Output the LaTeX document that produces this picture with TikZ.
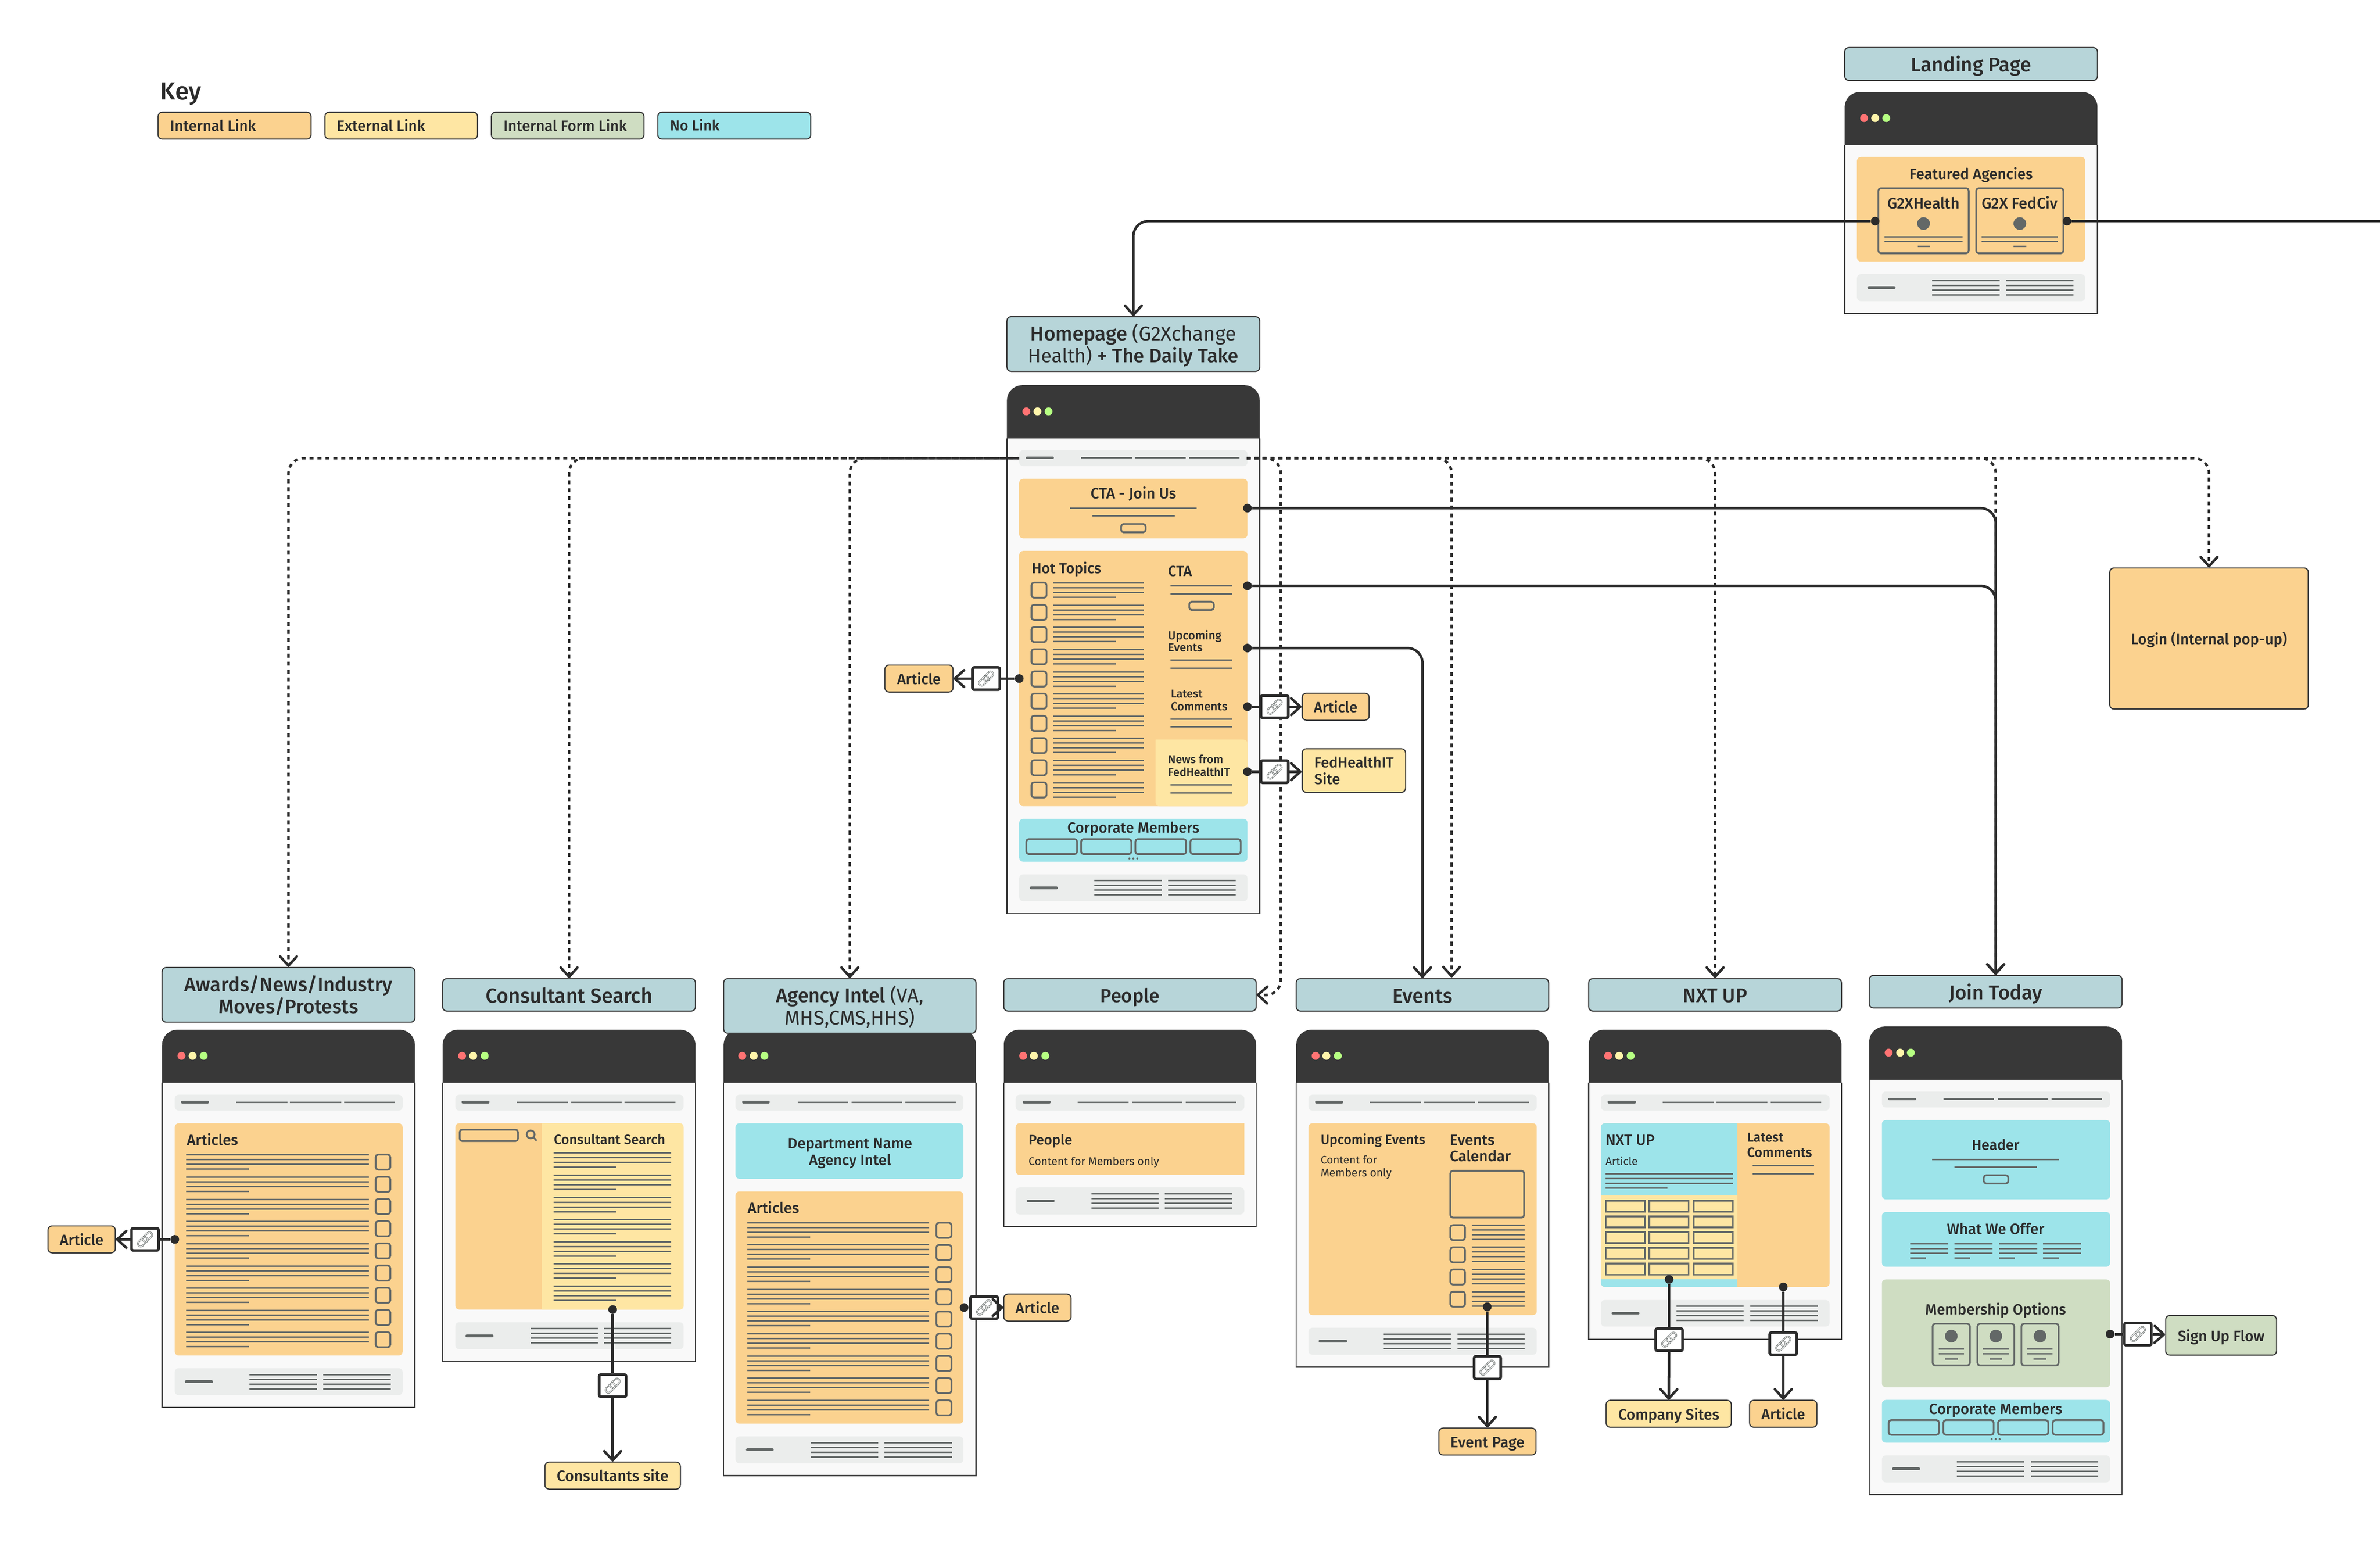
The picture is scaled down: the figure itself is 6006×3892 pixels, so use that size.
\documentclass[tikz,border=0pt]{standalone}
\usepackage{fontspec}
\usetikzlibrary{arrows.meta}
\setmainfont{Fira Sans}
\newfontfamily\med{Fira Sans Medium}
\newfontfamily\lgt{Fira Sans}
\definecolor{cOr}{HTML}{FBD28F}
\definecolor{cYe}{HTML}{FEE6A3}
\definecolor{cGr}{HTML}{CFDDC2}
\definecolor{cCy}{HTML}{9DE4EA}
\definecolor{cTi}{HTML}{B7D5D9}
\definecolor{cDk}{HTML}{383838}
\definecolor{cPg}{HTML}{F9F9F9}
\definecolor{cBar}{HTML}{EBEDEC}
\definecolor{cLn}{HTML}{636867}
\definecolor{cTx}{HTML}{2B2B2B}
\definecolor{cD1}{HTML}{FF7373}
\definecolor{cD2}{HTML}{FFF5AA}
\definecolor{cD3}{HTML}{B6FF82}
\def\lh{15.9pt}
\newcommand\titlefont{\med\fontsize{12pt}{15.9pt}\selectfont}
\newcommand\fsfor[2]{\setbox0=\hbox{\fontsize{10pt}{12pt}\selectfont #2}\pgfmathsetmacro\fs{10*#1*0.2845/\the\wd0}}
\newcommand\fitc[2]{\fsfor{#1}{#2}\fontsize{\fs pt}{\lh}\selectfont\raisebox{-.39em}[0pt][0pt]{\mbox{#2}}}
\newcounter{tn}
\tikzset{
 txt/.style={inner sep=0pt,text=cTx},
 title/.style={draw=cDk,fill=cTi,line width=.8pt,rounded corners=3pt,inner sep=0pt,align=center,text=cTx,font=\titlefont},
 target/.style={draw=cDk,fill=#1,line width=.8pt,rounded corners=3pt,inner sep=0pt,align=center,text=cTx,font=\titlefont},
 conn/.style={draw=cTx,line width=1.8pt,rounded corners=10.8pt},
 dashc/.style={draw=cTx,line width=1.8pt,rounded corners=10.8pt,dash pattern=on 2.845pt off 2.845pt},
 tip/.style={-{Straight Barb[length=6.6pt,width=12pt,round]}},
 dotn/.style={circle,fill=cTx,inner sep=0pt,minimum size=.22cm},
 linkbox/.style={draw=cTx,fill=white,line width=1.9pt,rounded corners=1.2pt,inner sep=0pt},
 ring/.style={draw=cLn,line width=.3pt,double=cBar,double distance=.5pt,rounded corners=2pt,minimum width=.28cm,minimum height=.14cm,inner sep=0pt,rotate=45},
 gl/.style={draw=cLn,line width=1.03pt},
 lg/.style={draw=cLn,line width=2pt,line cap=round},
 cb/.style={draw=cLn,line width=1.25pt,rounded corners=1.8pt},
}
\newcommand\bx[7]{\pgfmathsetmacro\cxx{(#3+#5)/2}\pgfmathsetmacro\cyy{(#4+#6)/2}\node[#2,minimum width={(#5-#3)*0.01cm},minimum height={(#6-#4)*0.01cm}] (#1) at (\cxx,\cyy) {#7};}
\newcommand\tl[5][\med]{\stepcounter{tn}\node[txt,font=#1,anchor=west] (t\thetn) at (#2,#3) {\fitc{#4}{#5}};}
\newcommand\tc[5][\med]{\stepcounter{tn}\node[txt,font=#1] (t\thetn) at (#2,#3) {\fitc{#4}{#5}};}
\newcommand\rr[5]{\fill[#1,rounded corners=2.8pt] (#2,#3) rectangle (#4,#5);}
\newcommand\window[8]{%x0 x1 top head bot d1 d2 d3
 \fill[cPg] (#1,#4) rectangle (#2,#5);
 \draw[cDk,line width=.8pt] (#1,#4) -- (#1,#5) -- (#2,#5) -- (#2,#4);
 \fill[cDk] (#1,#4) [rounded corners=11pt] -- (#1,#3) -- (#2,#3) [sharp corners] -- (#2,#4) -- cycle;
 \pgfmathsetmacro\dy{#3+66}
 \fill[cD1] (#6,\dy) circle (10);
 \fill[cD2] (#7,\dy) circle (10);
 \fill[cD3] (#8,\dy) circle (10);
}
\newcommand\nav[9]{%x0 x1 y0 lx0 lx1 a b c w
 \fill[cBar,rounded corners=2.8pt] (#1,#3) rectangle (#2,#3+40);
 \draw[lg] (#4,#3+19) -- (#5,#3+19);
 \draw[gl] (#6,#3+19) -- +(#9,0); \draw[gl] (#7,#3+19) -- +(#9,0); \draw[gl] (#8,#3+19) -- +(#9,0);
}
\newcommand\foot[9]{%x0 x1 y0 y1 lx0 lx1 a b w
 \fill[cBar,rounded corners=2.8pt] (#1,#3) rectangle (#2,#4);
 \pgfmathsetmacro\fy{(#3+#4)/2}
 \draw[lg] (#5,\fy) -- (#6,\fy);
 \foreach \o in {-18,-6,6,18}{\draw[gl] (#7,\fy+\o) -- +(#9,0); \draw[gl] (#8,\fy+\o) -- +(#9,0);}
}
\newcommand\rows[5]{%x0 x1 xs y0 n
 \foreach \i [evaluate=\i as \yy using #4+(\i-1)*56] in {1,...,#5}{
  \draw[gl] (#1,\yy) -- (#2,\yy); \draw[gl] (#1,\yy+12) -- (#2,\yy+12); \draw[gl] (#1,\yy+24) -- (#2,\yy+24); \draw[gl] (#1,\yy+36) -- (#3,\yy+36);}
}
\newcommand\cbs[5]{%x0 x1 y0 h n
 \foreach \i [evaluate=\i as \yy using #3+(\i-1)*56] in {1,...,#5}{\draw[cb] (#1,\yy) rectangle (#2,\yy+#4);}
}
\newcommand\linkicon[5]{\bx{#1}{linkbox}{#2}{#3}{#4}{#5}{}
 \node[ring] (#1a) at ([shift={(6,-6)}]#1.center) {};
 \node[ring] (#1b) at ([shift={(-6,6)}]#1.center) {};}
\begin{document}
\begin{tikzpicture}[x=0.01cm,y=-0.01cm]
\useasboundingbox (0,0) rectangle (6006,3892);
% ---------- KEY
\tl{404}{227}{103}{Key}
\bx{k1}{target=cOr}{399}{283}{785}{351}{}\tl{429}{316}{216}{Internal Link}
\bx{k2}{target=cYe}{820}{283}{1205}{351}{}\tl{849}{316}{223}{External Link}
\bx{k3}{target=cGr}{1240}{283}{1625}{351}{}\tl{1270}{316}{311}{Internal Form Link}
\bx{k4}{target=cCy}{1660}{283}{2046}{351}{}\tl{1690}{316}{125}{No Link}
% ---------- LANDING
\bx{tLand}{title}{4655}{120}{5293}{203}{\fitc{303}{Landing Page}}
\window{4655}{5293}{232}{366}{791}{4704}{4732}{4760}
\rr{cOr}{4686}{396}{5262}{660}
\tc{4974}{437}{311}{Featured Agencies}
\draw[cb] (4740,475) rectangle (4968,639);
\draw[cb] (4987,475) rectangle (5207,639);
\tc{4854}{511}{182}{G2XHealth}
\tc{5097}{511}{192}{G2X FedCiv}
\fill[cLn] (4854,564) circle (16); \fill[cLn] (5097,564) circle (16);
\draw[gl] (4755,598) -- (4952,598); \draw[gl] (4755,610) -- (4952,610); \draw[gl] (4839,622) -- (4870,622);
\draw[gl] (5001,598) -- (5193,598); \draw[gl] (5001,610) -- (5193,610); \draw[gl] (5081,622) -- (5113,622);
\foot{4686}{5262}{692}{760}{4716}{4780}{4876}{5062}{170}
% ---------- HOMEPAGE
\bx{tHome}{title}{2541}{799}{3179}{937}{\fitc{519}{\med Homepage \lgt(G2Xchange}\\\fitc{531}{\lgt Health) \med+ The Daily Take}}
\window{2541}{3179}{972}{1106}{2305}{2590}{2618}{2646}
\nav{2572}{3148}{1136}{2592}{2656}{2728}{2864}{3000}{128}
\rr{cOr}{2572}{1208}{3148}{1358}
\tc{2860}{1243}{216}{CTA - Join Us}
\draw[gl] (2700,1282) -- (3020,1282); \draw[gl] (2757,1302) -- (2964,1302);
\draw[cb] (2829,1322) rectangle (2891,1343);
\rr{cOr}{2572}{1390}{3148}{2034}
\fill[cYe,rounded corners=2.8pt] (2916,1866) -- (3148,1866) -- (3148,2034) -- (2916,2034) [sharp corners] -- cycle;
\tl{2603}{1432}{175}{Hot Topics}
\cbs{2603}{2641}{1470}{38}{10}
\rows{2658}{2886}{2816}{1471}{10}
\tl{2947}{1439}{60}{CTA}
\draw[gl] (2954,1478) -- (3110,1478); \draw[gl] (2954,1498) -- (3110,1498);
\draw[cb] (3001,1518) rectangle (3063,1539);
\tl{2947}{1602}{135}{Upcoming}\tl{2947}{1633}{87}{Events}
\draw[gl] (2954,1666) -- (3110,1666); \draw[gl] (2954,1686) -- (3110,1686);
\tl{2954}{1749}{80}{Latest}\tl{2954}{1781}{143}{Comments}
\draw[gl] (2954,1814) -- (3110,1814); \draw[gl] (2954,1834) -- (3110,1834);
\tl{2947}{1915}{139}{News from}\tl{2947}{1947}{156}{FedHealthIT}
\draw[gl] (2954,1980) -- (3110,1980); \draw[gl] (2954,2000) -- (3110,2000);
\rr{cCy}{2572}{2066}{3148}{2174}
\tc{2860}{2087}{333}{Corporate Members}
\foreach \a/\b in {2590/2718,2728/2855,2865/2993,3004/3131}{\draw[cb] (\a,2117) rectangle (\b,2155);}
\foreach \a in {2850,2860,2870}{\fill[cLn] (\a,2166) circle (2.5);}
\foot{2572}{3148}{2206}{2274}{2602}{2666}{2762}{2948}{170}
% ---------- AWARDS
\bx{tAw}{title}{409}{2441}{1047}{2579}{\fitc{524}{Awards/News/Industry}\\\fitc{352}{Moves/Protests}}
\window{409}{1047}{2598}{2732}{3551}{458}{486}{514}
\nav{441}{1016}{2762}{460}{524}{596}{732}{868}{129}
\rr{cOr}{441}{2834}{1016}{3420}
\tl{471}{2875}{129}{Articles}
\rows{470}{931}{628}{2914}{9}
\cbs{948}{985}{2913}{38}{9}
\foot{441}{1016}{3452}{3520}{470}{534}{630}{816}{170}
% ---------- CONSULTANT
\bx{tCon}{title}{1117}{2469}{1755}{2551}{\fitc{421}{Consultant Search}}
\window{1117}{1755}{2598}{2732}{3435}{1166}{1194}{1223}
\nav{1149}{1725}{2762}{1168}{1232}{1305}{1441}{1576}{128}
\rr{cOr}{1149}{2834}{1725}{3304}
\fill[cYe,rounded corners=2.8pt] (1367,2834) [sharp corners] -- (1367,3304) [rounded corners=2.8pt] -- (1725,3304) -- (1725,2834) [sharp corners] -- cycle;
\draw[cb] (1160,2850) rectangle (1307,2879);
\draw[cLn,line width=1.25pt] (1339,2862) circle (10) (1347,2870) -- (1354,2878);
\tl{1397}{2874}{281}{Consultant Search}
\rows{1397}{1694}{1554}{2909}{7}
\foot{1149}{1725}{3336}{3404}{1178}{1242}{1339}{1524}{170}
% ---------- AGENCY
\window{1826}{2463}{2598}{2732}{3723}{1873}{1902}{1929}
\bx{tAg}{title}{1826}{2469}{2463}{2607}{\fitc{372}{\med Agency Intel \lgt(VA,}\\\fitc{329}{\lgt MHS,CMS,HHS)}}
\nav{1856}{2431}{2762}{1876}{1939}{2013}{2149}{2285}{127}
\rr{cCy}{1856}{2834}{2431}{2974}
\tc{2145}{2883}{314}{Department Name}\tc{2145}{2925}{207}{Agency Intel}
\rr{cOr}{1856}{3006}{2431}{3592}
\tl{1886}{3046}{130}{Articles}
\rows{1886}{2345}{2044}{3085}{9}
\cbs{2363}{2401}{3085}{38}{9}
\foot{1856}{2431}{3624}{3692}{1886}{1949}{2046}{2232}{170}
% ---------- PEOPLE
\bx{tPe}{title}{2533}{2469}{3170}{2551}{\fitc{149}{People}}
\window{2533}{3170}{2598}{2732}{3095}{2582}{2609}{2638}
\nav{2563}{3140}{2762}{2584}{2648}{2720}{2856}{2992}{128}
\fill[cOr] (3140,2834) -- (3140,2964) [rounded corners=2.8pt] -- (2563,2964) -- (2563,2834) [sharp corners] -- cycle;
\tl{2595}{2875}{110}{People}
\tl[\lgt]{2595}{2929}{329}{Content for Members only}
\foot{2563}{3140}{2996}{3064}{2594}{2658}{2754}{2939}{170}
% ---------- EVENTS
\bx{tEv}{title}{3271}{2469}{3908}{2551}{\fitc{151}{Events}}
\window{3271}{3908}{2598}{2732}{3449}{3320}{3347}{3376}
\nav{3302}{3878}{2762}{3322}{3386}{3457}{3594}{3730}{128}
\rr{cOr}{3302}{2834}{3878}{3318}
\tl{3332}{2874}{264}{Upcoming Events}
\tl[\lgt]{3332}{2926}{142}{Content for}\tl[\lgt]{3332}{2958}{179}{Members only}
\tl{3658}{2875}{113}{Events}\tl{3658}{2916}{154}{Calendar}
\draw[cb] (3660,2954) rectangle (3846,3072);
\cbs{3660}{3697}{3091}{38}{4}
\rows{3714}{3847}{3847}{3091}{4}
\foot{3302}{3878}{3350}{3418}{3331}{3396}{3492}{3678}{169}
% ---------- NXT UP
\bx{tNx}{title}{4009}{2469}{4647}{2551}{\fitc{162}{NXT UP}}
\window{4009}{4647}{2598}{2732}{3379}{4058}{4086}{4115}
\nav{4040}{4617}{2762}{4060}{4125}{4196}{4332}{4468}{128}
\rr{cOr}{4040}{2834}{4617}{3247}
\fill[cCy,rounded corners=2.8pt] (4384,2834) [sharp corners] -- (4384,3247) [rounded corners=2.8pt] -- (4040,3247) -- (4040,2834) [sharp corners] -- cycle;
\fill[cYe] (4040,3016) rectangle (4384,3227);
\tl{4051}{2874}{124}{NXT UP}
\tl[\lgt]{4051}{2929}{81}{Article}
\draw[gl] (4051,2962) -- (4374,2962); \draw[gl] (4051,2974) -- (4374,2974); \draw[gl] (4051,2986) -- (4374,2986); \draw[gl] (4051,2998) -- (4208,2998);
\foreach \r in {0,1,2,3,4}{\foreach \a/\b in {4052/4151,4162/4261,4274/4373}{\draw[cLn,line width=1.25pt] (\a,3029+\r*39.8) rectangle (\b,3057+\r*39.8);}}
\tl{4408}{2868}{92}{Latest}\tl{4408}{2906}{164}{Comments}
\draw[gl] (4423,2941) -- (4578,2941); \draw[gl] (4423,2962) -- (4578,2962);
\foot{4040}{4617}{3280}{3347}{4070}{4134}{4230}{4417}{170}
% ---------- JOIN TODAY
\bx{tJo}{title}{4717}{2461}{5355}{2543}{\fitc{235}{Join Today}}
\window{4717}{5355}{2590}{2724}{3771}{4766}{4795}{4822}
\nav{4749}{5325}{2754}{4768}{4832}{4904}{5041}{5177}{128}
\rr{cCy}{4749}{2826}{5325}{3026}
\tc{5036}{2887}{120}{Header}
\draw[gl] (4876,2925) -- (5196,2925); \draw[gl] (4932,2945) -- (5140,2945);
\draw[cb] (5006,2965) rectangle (5068,2986);
\rr{cCy}{4749}{3058}{5325}{3196}
\tc{5036}{3099}{246}{What We Offer}
\foreach \a in {4820,4932,5045,5156}{\draw[gl] (\a,3138) -- +(96,0); \draw[gl] (\a,3150) -- +(96,0); \draw[gl] (\a,3162) -- +(96,0); \draw[gl] (\a,3174) -- +(40,0);}
\rr{cGr}{4749}{3228}{5325}{3500}
\tc{5036}{3303}{355}{Membership Options}
\foreach \a/\b in {4877/4971,4990/5083,5101/5195}{
 \draw[cb] (\a,3340) rectangle (\b,3445);
 \pgfmathsetmacro\mm{(\a+\b)/2}
 \fill[cLn] (\mm,3371) circle (16);
 \draw[gl] (\mm-32,3404) -- (\mm+32,3404); \draw[gl] (\mm-32,3416) -- (\mm+32,3416); \draw[gl] (\mm-16,3429) -- (\mm+16,3429);}
\rr{cCy}{4749}{3532}{5325}{3640}
\tc{5036}{3554}{336}{Corporate Members}
\foreach \a/\b in {4766/4893,4904/5031,5042/5169,5180/5308}{\draw[cb] (\a,3583) rectangle (\b,3620);}
\foreach \a in {5026,5036,5046}{\fill[cLn] (\a,3631) circle (2.5);}
\foot{4749}{5325}{3672}{3740}{4778}{4842}{4938}{5125}{170}
% ---------- LOGIN
\bx{tLog}{target=cOr}{5324}{1433}{5825}{1789}{\fitc{394}{Login (Internal pop-up)}}
% ---------- TARGET BOXES
\bx{gA1}{target=cOr}{2233}{1678}{2405}{1746}{\fitc{110}{Article}}
\bx{gA2}{target=cOr}{3286}{1749}{3455}{1817}{\fitc{110}{Article}}
\bx{gF}{target=cYe}{3286}{1889}{3547}{1999}{}
\tl{3316}{1922}{200}{FedHealthIT}\tl{3316}{1964}{65}{Site}
\bx{gA3}{target=cOr}{121}{3093}{291}{3161}{\fitc{110}{Article}}
\bx{gCs}{target=cYe}{1375}{3689}{1717}{3757}{\fitc{282}{Consultants site}}
\bx{gA4}{target=cOr}{2533}{3265}{2703}{3333}{\fitc{110}{Article}}
\bx{gEp}{target=cOr}{3631}{3603}{3876}{3671}{\fitc{187}{Event Page}}
\bx{gCo}{target=cYe}{4053}{3533}{4369}{3601}{\fitc{255}{Company Sites}}
\bx{gA5}{target=cOr}{4415}{3533}{4585}{3601}{\fitc{110}{Article}}
\bx{gSu}{target=cGr}{5465}{3319}{5745}{3419}{\fitc{219}{Sign Up Flow}}
% ---------- DASHED NAV CONNECTORS
\coordinate (navL) at (2572,1156);
\coordinate (navR) at (3146,1156);
\coordinate (evd) at (3663,2466);
\coordinate (pec) at (3232,2511);
\draw[dashc,tip] (navL) -| (tAw.north);
\draw[dashc,tip,dash phase=1.42pt] (navL) -| (tCon.north);
\draw[dashc,tip,dash phase=2.845pt] (navL) -| (tAg.north);
\draw[dashc,tip] (navR) -| (pec) -- (tPe.east);
\draw[dashc,tip] (navR) -| (evd);
\draw[dashc,tip] (navR) -| (tNx.north);
\draw[dashc,tip] (navR) -| (tJo.north);
\draw[dashc,tip] (navR) -| (tLog.north);
% ---------- SOLID CONNECTORS
\node[dotn] (dL1) at (4732,558) {};
\node[dotn] (dL2) at (5216,558) {};
\coordinate (edge) at (6006,558);
\draw[conn,tip] (dL1) -| (tHome.north);
\draw[conn] (dL2) -- (edge);
\node[dotn] (dC1) at (3148,1282) {};
\node[dotn] (dC2) at (3148,1478) {};
\node[dotn] (dC3) at (3148,1635) {};
\draw[conn,tip] (dC1) -| (tJo.north);
\draw[conn,tip] (dC2) -| (tJo.north);
\draw[conn,tip] (dC3) -| (tEv.north);
\node[dotn] (dH1) at (2572,1712) {};
\linkicon{lH1}{2454}{1684}{2523}{1740}
\draw[conn] (dH1) -- (lH1); \draw[conn,tip] (lH1) -- (gA1);
\node[dotn] (dH2) at (3148,1783) {};
\linkicon{lH2}{3182}{1755}{3251}{1811}
\draw[conn] (dH2) -- (lH2); \draw[conn,tip] (lH2) -- (gA2);
\node[dotn] (dH3) at (3148,1947) {};
\linkicon{lH3}{3182}{1919}{3251}{1975}
\draw[conn] (dH3) -- (lH3); \draw[conn,tip] (lH3) -- (gF.west|-lH3);
\node[dotn] (dW1) at (441,3127) {};
\linkicon{lW1}{332}{3099}{400}{3155}
\draw[conn] (dW1) -- (lW1); \draw[conn,tip] (lW1) -- (gA3);
\node[dotn] (dW2) at (1546,3304) {};
\linkicon{lW2}{1512}{3468}{1580}{3524}
\draw[conn] (dW2) -- (lW2); \draw[conn,tip] (lW2) -- (gCs.north-|lW2);
\node[dotn] (dW3) at (2433,3299) {};
\linkicon{lW3}{2449}{3271}{2518}{3327}
\draw[conn] (dW3) -- (lW3); \draw[conn,tip] (lW3) -- (gA4);
\node[dotn] (dW4) at (3753,3297) {};
\linkicon{lW4}{3720}{3422}{3787}{3479}
\draw[conn] (dW4) -- (lW4); \draw[conn,tip] (lW4) -- (gEp);
\node[dotn] (dW5) at (4212,3228) {};
\linkicon{lW5}{4178}{3352}{4246}{3408}
\draw[conn] (dW5) -- (lW5); \draw[conn,tip] (lW5) -- (gCo);
\node[dotn] (dW6) at (4500,3247) {};
\linkicon{lW6}{4466}{3362}{4534}{3418}
\draw[conn] (dW6) -- (lW6); \draw[conn,tip] (lW6) -- (gA5);
\node[dotn] (dW7) at (5325,3366) {};
\linkicon{lW7}{5361}{3338}{5429}{3394}
\draw[conn] (dW7) -- (lW7); \draw[conn,tip] (lW7) -- (gSu);
\end{tikzpicture}
\end{document}
